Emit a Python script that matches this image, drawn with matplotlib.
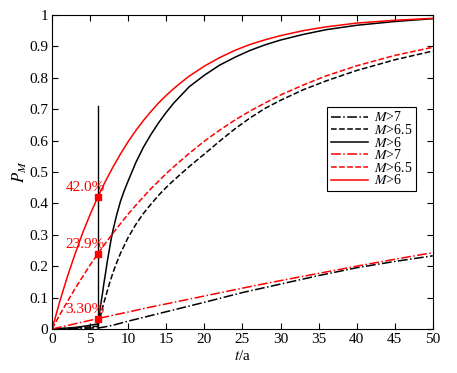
import numpy as np
import matplotlib
matplotlib.use('Agg')
import matplotlib.pyplot as plt

plt.rcParams['font.family'] = 'Liberation Serif'
plt.rcParams['mathtext.fontset'] = 'stix'

# Poisson curves (red)
t_red = [0, 1, 2, 3, 4, 5, 6, 7, 8, 9, 10, 11, 12, 13, 14, 15, 16, 17, 18,
         20, 22, 24, 26, 28, 30, 33, 36, 40, 45, 50]
red_m6 = [0, 0.087, 0.166, 0.238, 0.305, 0.365, 0.420, 0.470, 0.516, 0.558,
          0.597, 0.632, 0.664, 0.693, 0.720, 0.744, 0.766, 0.786, 0.805,
          0.837, 0.864, 0.887, 0.906, 0.921, 0.934, 0.950, 0.962, 0.974, 0.983, 0.989]
red_m65 = [0, 0.045, 0.087, 0.128, 0.166, 0.204, 0.239, 0.273, 0.305, 0.336,
           0.366, 0.394, 0.421, 0.447, 0.471, 0.495, 0.517, 0.538, 0.559,
           0.598, 0.633, 0.665, 0.694, 0.720, 0.745, 0.777, 0.806, 0.838, 0.871, 0.897]
t_red7 = [0, 2, 4, 6, 8, 10, 12, 15, 18, 21, 24, 27, 30, 35, 40, 45, 50]
red_m7 = [0, 0.011, 0.022, 0.033, 0.044, 0.054, 0.065, 0.080, 0.095, 0.110,
          0.125, 0.140, 0.154, 0.177, 0.200, 0.222, 0.243]

# black curves, part before t=6
t_blk0 = [0, 1, 2, 3, 4, 5, 6]
blk0_m6 = [0, 0.001, 0.003, 0.005, 0.008, 0.012, 0.016]
blk0_m65 = [0, 0.001, 0.002, 0.003, 0.005, 0.007, 0.009]
blk0_m7 = [0, 0.0005, 0.001, 0.0015, 0.002, 0.003, 0.004]

# black curves after t=6
t_b6 = [6, 6.2, 6.4, 6.6, 6.8, 7, 7.25, 7.5, 7.75, 8, 8.5, 9, 9.5, 10, 11, 12, 13,
        14, 15, 16, 18, 20, 22, 24, 26, 28, 30, 33, 36, 40, 45, 50]
blk_m6 = [0.02, 0.045, 0.08, 0.11, 0.145, 0.175, 0.215, 0.25, 0.285, 0.315, 0.365,
          0.408, 0.442, 0.472, 0.53, 0.579, 0.620, 0.657, 0.690, 0.720, 0.771, 0.808,
          0.840, 0.865, 0.887, 0.905, 0.920, 0.938, 0.953, 0.967, 0.979, 0.988]
t_b65 = [6, 6.25, 6.5, 6.75, 7, 7.5, 8, 8.5, 9, 10, 11, 12, 13, 14, 15, 16, 18, 20,
         22, 24, 26, 28, 30, 33, 36, 40, 45, 50]
blk_m65 = [0.009, 0.03, 0.055, 0.08, 0.10, 0.142, 0.18, 0.212, 0.242, 0.292, 0.333,
           0.368, 0.398, 0.426, 0.451, 0.474, 0.517, 0.557, 0.598, 0.637, 0.672,
           0.703, 0.728, 0.762, 0.790, 0.823, 0.857, 0.885]
t_b7 = [6, 7, 8, 10, 15, 20, 25, 30, 35, 40, 45, 50]
blk_m7 = [0.003, 0.007, 0.012, 0.025, 0.055, 0.085, 0.116, 0.143, 0.170, 0.195, 0.215, 0.233]

t_mark = 6
marks = [0.420, 0.239, 0.033]
mark_labels = ['42.0%', '23.9%', '3.30%']
vline_top = 0.71

fig = plt.figure(figsize=(4.57, 3.73), dpi=100)
ax = fig.add_axes([0.114, 0.118, 0.833, 0.842])

lw = 1.1
ax.plot(t_blk0, blk0_m7, color='k', ls='-.', lw=lw)
ax.plot(t_blk0, blk0_m65, color='k', ls='--', lw=lw)
ax.plot(t_blk0, blk0_m6, color='k', ls='-', lw=lw)
ax.plot(t_b7, blk_m7, color='k', ls='-.', lw=lw, label=r'$M$>7')
ax.plot(t_b65, blk_m65, color='k', ls='--', lw=lw, label=r'$M$>6.5')
ax.plot(t_b6, blk_m6, color='k', ls='-', lw=lw, label=r'$M$>6')
ax.plot(t_red7, red_m7, color='r', ls='-.', lw=lw, label=r'$M$>7')
ax.plot(t_red, red_m65, color='r', ls='--', lw=lw, label=r'$M$>6.5')
ax.plot(t_red, red_m6, color='r', ls='-', lw=lw, label=r'$M$>6')

ax.plot([t_mark, t_mark], [0, vline_top], color='k', lw=1)
ax.plot([t_mark] * 3, marks, 's', color='r', ms=5, ls='none')
for v, s in zip(marks, mark_labels):
    ax.text(t_mark + 0.9, v + 0.03, s, color='r', fontsize=11, ha='right', va='center')

ax.set_xlim(0, 50)
ax.set_ylim(0, 1)
ax.set_xticks(np.arange(0, 51, 5))
ax.set_yticks(np.arange(0, 1.01, 0.1))
ax.set_yticklabels(['0', '0.1', '0.2', '0.3', '0.4', '0.5', '0.6', '0.7', '0.8', '0.9', '1'])
ax.tick_params(direction='in', top=True, right=True, length=4, labelsize=11, pad=3)
ax.set_xlabel(r'$t$/a', fontsize=11, labelpad=2)
ax.set_ylabel(r'$P_M$', fontsize=12, labelpad=0)

leg = ax.legend(loc='upper right', bbox_to_anchor=(0.955, 0.707), borderaxespad=0,
                fontsize=10, handlelength=2.7, labelspacing=-0.1, borderpad=0.25,
                handletextpad=0.4, fancybox=False, framealpha=1)
leg.get_frame().set_edgecolor('k')
leg.get_frame().set_linewidth(0.8)

fig.savefig('out.png', dpi=100)
